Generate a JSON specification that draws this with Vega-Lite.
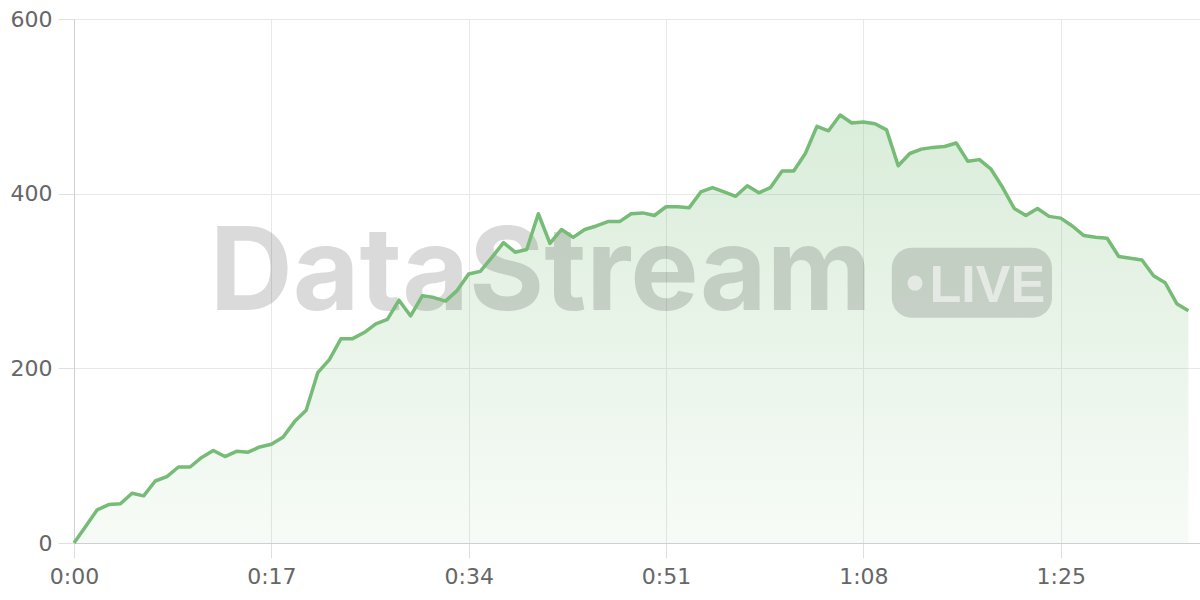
{
  "$schema": "https://vega.github.io/schema/vega-lite/v6.json",
  "width": 1126,
  "height": 524,
  "autosize": {"type": "none"},
  "padding": {"left": 74, "top": 19, "right": 0, "bottom": 57},
  "background": "#ffffff",
  "config": {
    "view": {"stroke": null},
    "axis": {
      "labelFont": "DejaVu Sans",
      "labelFontSize": 22,
      "labelColor": "#666666",
      "gridColor": "#e8e8e8",
      "gridWidth": 1,
      "tickColor": "#e0e0e0",
      "domainColor": "#cfcfcf",
      "labelFlush": false,
      "title": null
    }
  },
  "data": {
    "values": [
      {"t": 0, "v": 0}, {"t": 1, "v": 19}, {"t": 2, "v": 38}, {"t": 3, "v": 44}, {"t": 4, "v": 45},
      {"t": 5, "v": 57}, {"t": 6, "v": 54}, {"t": 7, "v": 71}, {"t": 8, "v": 76}, {"t": 9, "v": 87},
      {"t": 10, "v": 87}, {"t": 11, "v": 98}, {"t": 12, "v": 106}, {"t": 13, "v": 99}, {"t": 14, "v": 105},
      {"t": 15, "v": 104}, {"t": 16, "v": 110}, {"t": 17, "v": 113}, {"t": 18, "v": 121}, {"t": 19, "v": 139},
      {"t": 20, "v": 152}, {"t": 21, "v": 195}, {"t": 22, "v": 210}, {"t": 23, "v": 234}, {"t": 24, "v": 234},
      {"t": 25, "v": 241}, {"t": 26, "v": 251}, {"t": 27, "v": 256}, {"t": 28, "v": 278}, {"t": 29, "v": 260},
      {"t": 30, "v": 283}, {"t": 31, "v": 281}, {"t": 32, "v": 277}, {"t": 33, "v": 289}, {"t": 34, "v": 308},
      {"t": 35, "v": 311}, {"t": 36, "v": 327}, {"t": 37, "v": 344}, {"t": 38, "v": 333}, {"t": 39, "v": 336},
      {"t": 40, "v": 377}, {"t": 41, "v": 343}, {"t": 42, "v": 359}, {"t": 43, "v": 350}, {"t": 44, "v": 359},
      {"t": 45, "v": 363}, {"t": 46, "v": 368}, {"t": 47, "v": 368}, {"t": 48, "v": 377}, {"t": 49, "v": 378},
      {"t": 50, "v": 375}, {"t": 51, "v": 385}, {"t": 52, "v": 385}, {"t": 53, "v": 384}, {"t": 54, "v": 402},
      {"t": 55, "v": 407}, {"t": 56, "v": 402}, {"t": 57, "v": 397}, {"t": 58, "v": 409}, {"t": 59, "v": 401},
      {"t": 60, "v": 407}, {"t": 61, "v": 426}, {"t": 62, "v": 426}, {"t": 63, "v": 446}, {"t": 64, "v": 477},
      {"t": 65, "v": 472}, {"t": 66, "v": 490}, {"t": 67, "v": 481}, {"t": 68, "v": 482}, {"t": 69, "v": 480},
      {"t": 70, "v": 473}, {"t": 71, "v": 432}, {"t": 72, "v": 446}, {"t": 73, "v": 451}, {"t": 74, "v": 453},
      {"t": 75, "v": 454}, {"t": 76, "v": 458}, {"t": 77, "v": 437}, {"t": 78, "v": 439}, {"t": 79, "v": 428},
      {"t": 80, "v": 407}, {"t": 81, "v": 383}, {"t": 82, "v": 375}, {"t": 83, "v": 383}, {"t": 84, "v": 374},
      {"t": 85, "v": 372}, {"t": 86, "v": 363}, {"t": 87, "v": 352}, {"t": 88, "v": 350}, {"t": 89, "v": 349},
      {"t": 90, "v": 328}, {"t": 91, "v": 326}, {"t": 92, "v": 324}, {"t": 93, "v": 306}, {"t": 94, "v": 298},
      {"t": 95, "v": 274}, {"t": 96, "v": 266}
    ]
  },
  "layer": [
    {
      "mark": {
        "type": "area",
        "interpolate": "linear",
        "color": {
          "gradient": "linear",
          "x1": 0, "y1": 0, "x2": 0, "y2": 1,
          "stops": [
            {"offset": 0, "color": "rgba(118,187,118,0.27)"},
            {"offset": 1, "color": "rgba(118,187,118,0.06)"}
          ]
        }
      },
      "encoding": {
        "x": {
          "field": "t",
          "type": "quantitative",
          "scale": {"domain": [0, 97], "nice": false, "zero": false},
          "axis": {
            "values": [0, 17, 34, 51, 68, 85],
            "labelExpr": "floor(datum.value / 60) + ':' + (datum.value % 60 < 10 ? '0' : '') + (datum.value % 60)",
            "tickSize": 15,
            "labelPadding": 8,
            "grid": true,
            "domain": true
          }
        },
        "y": {
          "field": "v",
          "type": "quantitative",
          "scale": {"domain": [0, 600], "nice": false},
          "axis": {
            "values": [0, 200, 400, 600],
            "tickSize": 16,
            "labelPadding": 6,
            "grid": true,
            "domain": true
          }
        }
      }
    },
    {
      "data": {"values": [{"label": "DataStream"}]},
      "mark": {
        "type": "text",
        "font": "Inter",
        "fontWeight": "bold",
        "fontSize": 115,
        "align": "center",
        "baseline": "alphabetic",
        "color": "#000000",
        "opacity": 0.14
      },
      "encoding": {
        "x": {"datum": 40.2, "type": "quantitative"},
        "y": {"datum": 267, "type": "quantitative"},
        "text": {"field": "label"}
      }
    },
    {
      "data": {"values": [{"label": "LIVE"}]},
      "mark": {"type": "rect", "cornerRadius": 20, "color": "#000000", "opacity": 0.14},
      "encoding": {
        "x": {"datum": 70.45, "type": "quantitative"},
        "x2": {"datum": 84.25},
        "y": {"datum": 338, "type": "quantitative"},
        "y2": {"datum": 258}
      }
    },
    {
      "data": {"values": [{"label": "LIVE"}]},
      "mark": {"type": "point", "shape": "circle", "filled": true, "size": 230, "color": "#ffffff", "opacity": 0.55},
      "encoding": {
        "x": {"datum": 72.45, "type": "quantitative"},
        "y": {"datum": 297.5, "type": "quantitative"}
      }
    },
    {
      "data": {"values": [{"label": "LIVE"}]},
      "mark": {
        "type": "text",
        "font": "Liberation Sans",
        "fontWeight": "bold",
        "fontSize": 52,
        "align": "left",
        "baseline": "alphabetic",
        "color": "#ffffff",
        "opacity": 0.55
      },
      "encoding": {
        "x": {"datum": 73.7, "type": "quantitative"},
        "y": {"datum": 276, "type": "quantitative"},
        "text": {"field": "label"}
      }
    },
    {
      "mark": {"type": "line", "interpolate": "linear", "color": "#76bb76", "strokeWidth": 3.5, "strokeJoin": "round"},
      "encoding": {
        "x": {"field": "t", "type": "quantitative"},
        "y": {"field": "v", "type": "quantitative"}
      }
    }
  ]
}
